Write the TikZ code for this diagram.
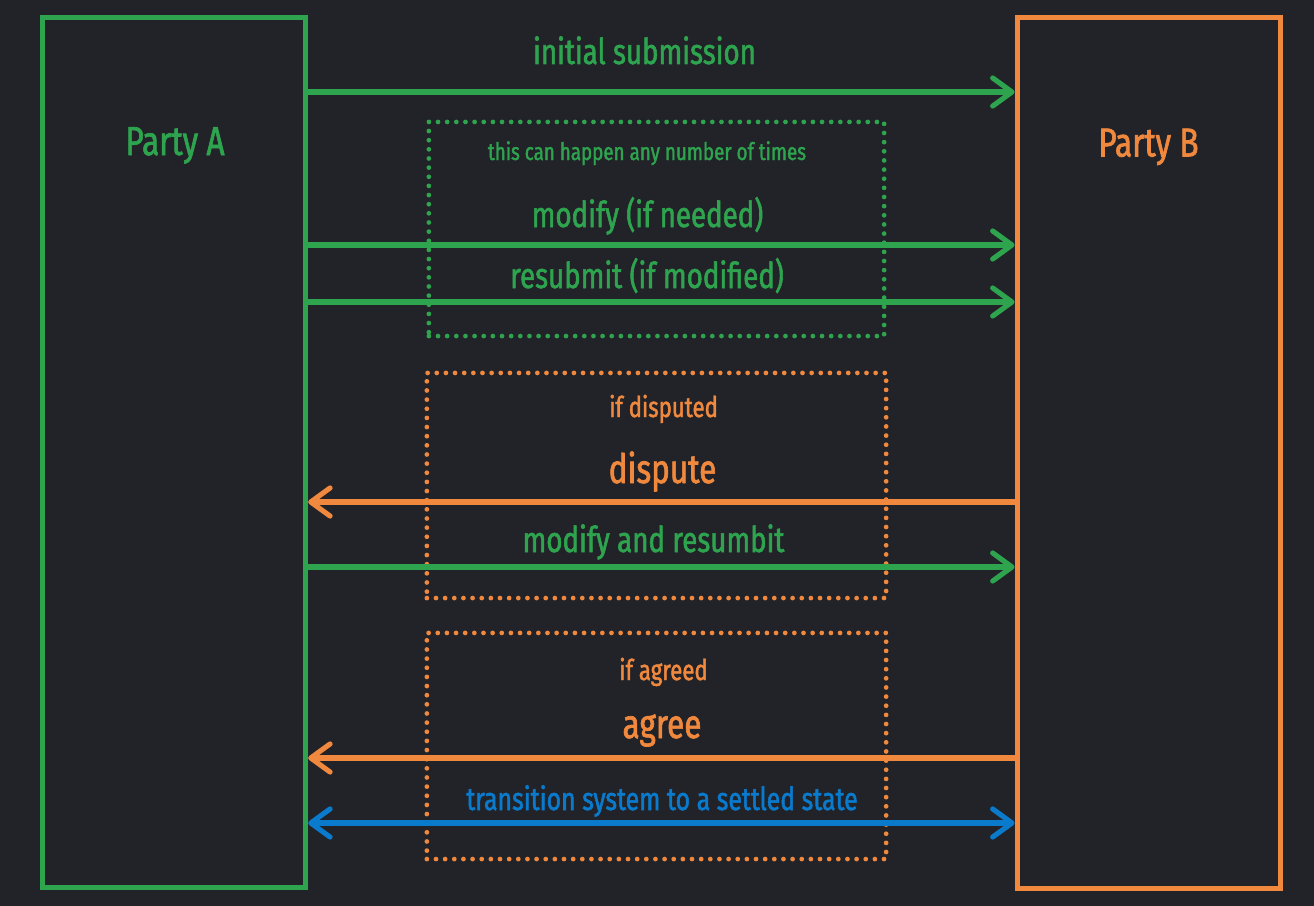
\documentclass[tikz,border=0pt]{standalone}
\usepackage{fontspec}
\setmainfont{Fira Sans}[FakeStretch=0.78, FakeBold=1.6]
\usetikzlibrary{arrows.meta, positioning}
\definecolor{bgdark}{HTML}{212328}
\definecolor{partyA}{HTML}{2EA44F}
\definecolor{partyB}{HTML}{F0883E}
\definecolor{settle}{HTML}{0A7ACC}
\tikzset{
  barb/.tip={Straight Barb[length=5.5pt, width=8pt, round]},
  party/.style={draw, line width=1.5pt, minimum width=2.63cm, minimum height=8.69cm, inner sep=0pt},
  msg/.style={line width=1.45pt, line cap=round, -barb},
  looparea/.style={draw, line width=1.35pt, line cap=round, dash pattern=on 0pt off 2.6pt, inner sep=0pt},
  lbl/.style={anchor=base, inner sep=0pt, font=\fontsize{10.1pt}{12pt}\selectfont},
  small/.style={lbl, font=\fontsize{6.85pt}{8pt}\selectfont},
  mid/.style={lbl, font=\fontsize{8.1pt}{9pt}\selectfont},
  big/.style={lbl, font=\fontsize{11.5pt}{13pt}\selectfont},
}

\begin{document}
\begin{tikzpicture}[x=0.01cm, y=-0.01cm]
  \fill[bgdark] (0,0) rectangle (1314,906);
  \useasboundingbox (0,0) rectangle (1314,906);

  % the two parties
  \node[party, partyA] (pa) at (174,452.5) {};
  \node[party, partyB, minimum height=8.70cm] (pb) at (1148.75,453) {};
  \node[big, partyA] (pat) at (175,155) {Party A};
  \node[big, partyB] (pbt) at (1148.5,156.5) {Party B};

  % repeatable part
  \node[looparea, partyA, minimum width=4.55cm, minimum height=2.14cm] (loop) at (656.5,229) {};
  % dispute and agree parts
  \node[looparea, partyB, minimum width=4.59cm, minimum height=2.25cm] (dsp) at (656.5,485.5) {};
  \node[looparea, partyB, minimum width=4.59cm, minimum height=2.26cm] (agr) at (656.5,746) {};

  % labels
  \node[lbl, partyA] (init) at (644.5,64) {initial submission};
  \node[small, partyA] (many) at (647,160) {this can happen any number of times};
  \node[lbl, partyA] (mod) at (647.5,227) {modify (if needed)};
  \node[lbl, partyA] (resub) at (647,288) {resubmit (if modified)};
  \node[mid, partyB] (ifd) at (663.5,417) {if disputed};
  \node[big, partyB] (dis) at (662.5,483) {dispute};
  \node[lbl, partyA] (modre) at (653.5,552) {modify and resumbit};
  \node[mid, partyB] (ifa) at (663.5,680) {if agreed};
  \node[big, partyB] (agt) at (662,738) {agree};
  \node[lbl, settle, font=\fontsize{9.05pt}{11pt}\selectfont] (settled) at (662,810) {transition system to a settled state};

  % messages
  \draw[msg, partyA] (pa.east |- 0,92) -- (pb.west |- 0,92);
  \draw[msg, partyA] (pa.east |- 0,245) -- (pb.west |- 0,245);
  \draw[msg, partyA] (pa.east |- 0,302) -- (pb.west |- 0,302);
  \draw[msg, partyB] (pb.west |- 0,502) -- (pa.east |- 0,502);
  \draw[msg, partyA] (pa.east |- 0,567) -- (pb.west |- 0,567);
  \draw[msg, partyB] (pb.west |- 0,758) -- (pa.east |- 0,758);
  \draw[msg, settle, barb-barb] (pa.east |- 0,823) -- (pb.west |- 0,823);
\end{tikzpicture}
\end{document}
